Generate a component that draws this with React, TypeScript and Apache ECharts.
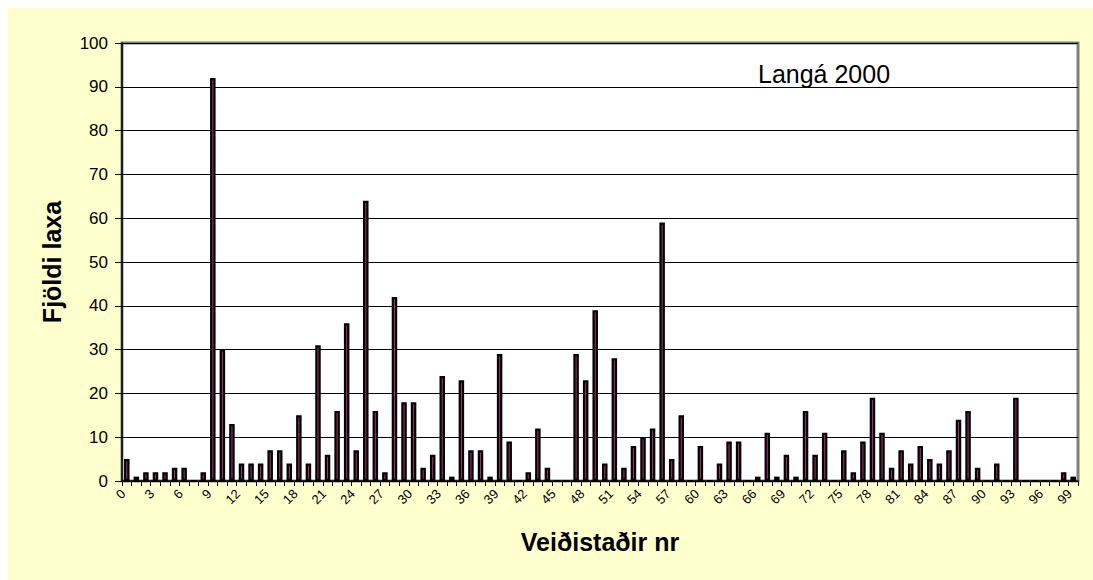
import React, { useEffect, useRef } from "react";
import * as echarts from "echarts";

const categories: string[] = Array.from({ length: 100 }, (_, i) => String(i));
const catchCounts: number[] = [
  5, 1, 2, 2, 2, 3, 3, 0, 2, 92,
  30, 13, 4, 4, 4, 7, 7, 4, 15, 4,
  31, 6, 16, 36, 7, 64, 16, 2, 42, 18,
  18, 3, 6, 24, 1, 23, 7, 7, 1, 29,
  9, 0, 2, 12, 3, 0, 0, 29, 23, 39,
  4, 28, 3, 8, 10, 12, 59, 5, 15, 0,
  8, 0, 4, 9, 9, 0, 1, 11, 1, 6,
  1, 16, 6, 11, 0, 7, 2, 9, 19, 11,
  3, 7, 4, 8, 5, 4, 7, 14, 16, 3,
  0, 4, 0, 19, 0, 0, 0, 0, 2, 1,
];
const yTicks = { min: 0, max: 100, interval: 10 };
const chartTitle = "Langá 2000";
const xName = "Veiðistaðir nr";
const yName = "Fjöldi laxa";

const FONT = "'Liberation Sans', Arial, sans-serif";

export default function App() {
  const ref = useRef<HTMLDivElement>(null);
  useEffect(() => {
    if (!ref.current) return;
    const chart = echarts.init(ref.current, undefined, { renderer: "svg" });
    chart.setOption({
      animation: false,
      backgroundColor: "#FFFFCE",
      title: {
        text: chartTitle,
        left: 745,
        top: 48,
        textStyle: { fontFamily: FONT, fontSize: 25, fontWeight: "normal", color: "#000" },
      },
      grid: {
        left: 114,
        top: 35,
        width: 956,
        height: 438,
        show: true,
        backgroundColor: "#ffffff",
        borderColor: "#808080",
        borderWidth: 3,
      },
      xAxis: {
        type: "category",
        data: categories,
        boundaryGap: true,
        name: xName,
        nameLocation: "middle",
        nameGap: 48,
        nameTextStyle: { fontFamily: FONT, fontSize: 25, fontWeight: "bold", color: "#000" },
        axisLine: { show: true, lineStyle: { color: "#000", width: 1.5 } },
        axisTick: { show: true, interval: 0, length: 5, lineStyle: { color: "#000" } },
        axisLabel: {
          interval: 2,
          rotate: 45,
          margin: 7,
          padding: [0, 5, 0, 0],
          fontFamily: FONT,
          fontSize: 13,
          color: "#000",
        },
        splitLine: { show: false },
      },
      yAxis: {
        type: "value",
        min: yTicks.min,
        max: yTicks.max,
        interval: yTicks.interval,
        name: yName,
        nameLocation: "middle",
        nameGap: 58,
        nameTextStyle: { fontFamily: FONT, fontSize: 25, fontWeight: "bold", color: "#000" },
        axisLine: { show: true, lineStyle: { color: "#000", width: 1.5 } },
        axisTick: { show: true, length: 7, lineStyle: { color: "#000" } },
        axisLabel: { margin: 14, fontFamily: FONT, fontSize: 17, color: "#000" },
        splitLine: { show: true, lineStyle: { color: "#000", width: 1 } },
      },
      series: [
        {
          type: "bar",
          data: catchCounts,
          barWidth: 5.5,
          itemStyle: { color: "#993366", borderColor: "#000", borderWidth: 2.2 },
        },
      ],
    });
    return () => chart.dispose();
  }, []);
  return (
    <div
      ref={ref}
      style={{ position: "fixed", left: 8, top: 8, width: 1085, height: 572 }}
    />
  );
}
